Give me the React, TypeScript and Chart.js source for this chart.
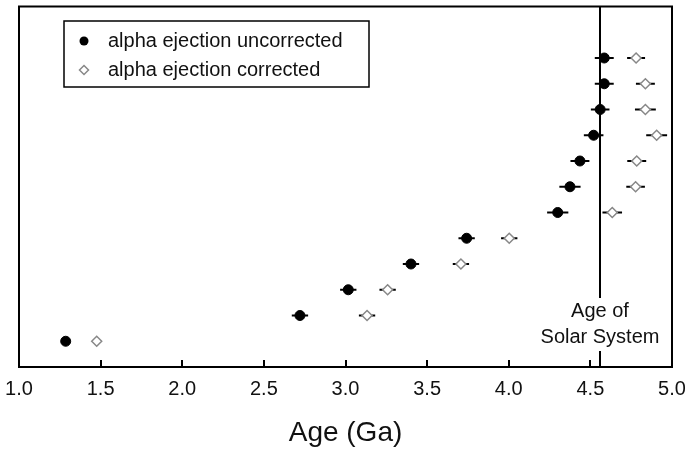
import React, { useEffect, useRef } from "react";
import { Chart, registerables } from "chart.js";

Chart.register(...registerables);

// Row index (1 = bottom row) for each measurement
const rows = [1, 2, 3, 4, 5, 6, 7, 8, 9, 10, 11, 12];
const uncorrectedAge = [1.286, 2.721, 3.017, 3.401, 3.742, 4.3, 4.375, 4.436, 4.52, 4.56, 4.585, 4.585];
const uncorrectedErr = [0, 0.05, 0.05, 0.05, 0.05, 0.065, 0.065, 0.058, 0.06, 0.057, 0.058, 0.058];
const correctedAge = [1.476, 3.132, 3.258, 3.707, 4.003, 4.634, 4.777, 4.784, 4.906, 4.837, 4.837, 4.78];
const correctedErr = [0, 0.05, 0.05, 0.05, 0.05, 0.06, 0.057, 0.058, 0.064, 0.064, 0.058, 0.055];
const seriesLabels = ["alpha ejection uncorrected", "alpha ejection corrected"];
const solarSystemAge = 4.56;
const solarSystemLabel = ["Age of", "Solar System"];
const xTicks = [1.0, 1.5, 2.0, 2.5, 3.0, 3.5, 4.0, 4.5, 5.0];
const xTitle = "Age (Ga)";

const FONT = "'Liberation Sans', Arial, Helvetica, sans-serif";
const errs = [uncorrectedErr, correctedErr];

const decorPlugin = {
  id: "decor",
  beforeDatasetsDraw(chart: any) {
    const { ctx, scales } = chart;
    const xs = scales.x;
    const ys = scales.y;
    ctx.save();
    ctx.strokeStyle = "#000";
    ctx.lineWidth = 2;
    chart.data.datasets.forEach((ds: any, di: number) => {
      ds.data.forEach((p: any, i: number) => {
        const e = errs[di][i];
        if (!e) return;
        const y = ys.getPixelForValue(p.y);
        ctx.beginPath();
        ctx.moveTo(xs.getPixelForValue(p.x - e), y);
        ctx.lineTo(xs.getPixelForValue(p.x + e), y);
        ctx.stroke();
      });
    });
    ctx.restore();
  },
  afterDraw(chart: any) {
    const { ctx, chartArea: a, scales } = chart;
    const xs = scales.x;
    ctx.save();
    // frame
    ctx.strokeStyle = "#000";
    ctx.lineWidth = 2;
    ctx.strokeRect(a.left, a.top, a.right - a.left, a.bottom - a.top);
    // inward ticks
    xTicks.forEach((t) => {
      const x = Math.round(xs.getPixelForValue(t));
      ctx.beginPath();
      ctx.moveTo(x, a.bottom);
      ctx.lineTo(x, a.bottom - 7);
      ctx.stroke();
    });
    // solar system age line
    const sx = Math.round(xs.getPixelForValue(solarSystemAge));
    ctx.beginPath();
    ctx.moveTo(sx, a.top);
    ctx.lineTo(sx, a.bottom);
    ctx.stroke();
    ctx.font = `20px ${FONT}`;
    const w = Math.max(...solarSystemLabel.map((s) => ctx.measureText(s).width));
    ctx.fillStyle = "#fff";
    ctx.fillRect(sx - w / 2 - 2, 298, w + 4, 53);
    ctx.fillStyle = "#111";
    ctx.textAlign = "center";
    ctx.textBaseline = "middle";
    ctx.fillText(solarSystemLabel[0], sx, 311);
    ctx.fillText(solarSystemLabel[1], sx, 337);
    // legend
    ctx.lineWidth = 1.5;
    ctx.strokeStyle = "#000";
    ctx.strokeRect(64, 21, 305, 66);
    const rowsY = [41, 70];
    chart.data.datasets.forEach((ds: any, di: number) => {
      const y = rowsY[di];
      ctx.beginPath();
      if (di === 0) {
        ctx.fillStyle = "#000";
        ctx.arc(84, y, 4.5, 0, Math.PI * 2);
        ctx.fill();
      } else {
        ctx.fillStyle = "#fff";
        ctx.strokeStyle = "#888";
        ctx.lineWidth = 1.5;
        ctx.moveTo(84, y - 4.5);
        ctx.lineTo(88.5, y);
        ctx.lineTo(84, y + 4.5);
        ctx.lineTo(79.5, y);
        ctx.closePath();
        ctx.fill();
        ctx.stroke();
      }
      ctx.fillStyle = "#111";
      ctx.textAlign = "left";
      ctx.textBaseline = "middle";
      ctx.fillText(ds.label, 108, y);
    });
    ctx.restore();
  },
};

export default function App() {
  const ref = useRef<HTMLCanvasElement>(null);
  useEffect(() => {
    document.body.style.margin = "0";
    const canvas = ref.current!;
    const chart = new Chart(canvas, {
      type: "scatter",
      data: {
        datasets: [
          {
            label: seriesLabels[0],
            data: rows.map((r, i) => ({ x: uncorrectedAge[i], y: r })),
            pointStyle: "circle",
            pointRadius: 5,
            backgroundColor: "#000",
            borderColor: "#000",
            borderWidth: 1,
          },
          {
            label: seriesLabels[1],
            data: rows.map((r, i) => ({ x: correctedAge[i], y: r })),
            pointStyle: "rectRot",
            pointRadius: 5,
            backgroundColor: "#fff",
            borderColor: "#888",
            borderWidth: 1.5,
          },
        ],
      },
      options: {
        responsive: false,
        animation: false,
        devicePixelRatio: 1,
        layout: { padding: { left: 19, right: 13, top: 5, bottom: 0 } },
        plugins: { legend: { display: false }, tooltip: { enabled: false } },
        scales: {
          x: {
            type: "linear",
            min: 1,
            max: 5,
            afterBuildTicks: (s: any) => {
              s.ticks = xTicks.map((v) => ({ value: v }));
            },
            afterFit: (s: any) => {
              s.height = 85;
              s.paddingLeft = 0;
              s.paddingRight = 0;
            },
            grid: { display: false, drawTicks: false },
            border: { display: false },
            ticks: {
              callback: (v: any) => Number(v).toFixed(1),
              font: { family: FONT, size: 20 },
              color: "#111",
              padding: 10,
              maxRotation: 0,
              autoSkip: false,
            },
            title: {
              display: true,
              text: xTitle,
              font: { family: FONT, size: 28 },
              color: "#111",
              padding: { top: 0, bottom: 2 },
            },
          },
          y: { display: false, min: 0, max: 14 },
        },
      },
      plugins: [decorPlugin],
    });
    return () => chart.destroy();
  }, []);
  return <canvas ref={ref} width={685} height={452} style={{ display: "block" }} />;
}
